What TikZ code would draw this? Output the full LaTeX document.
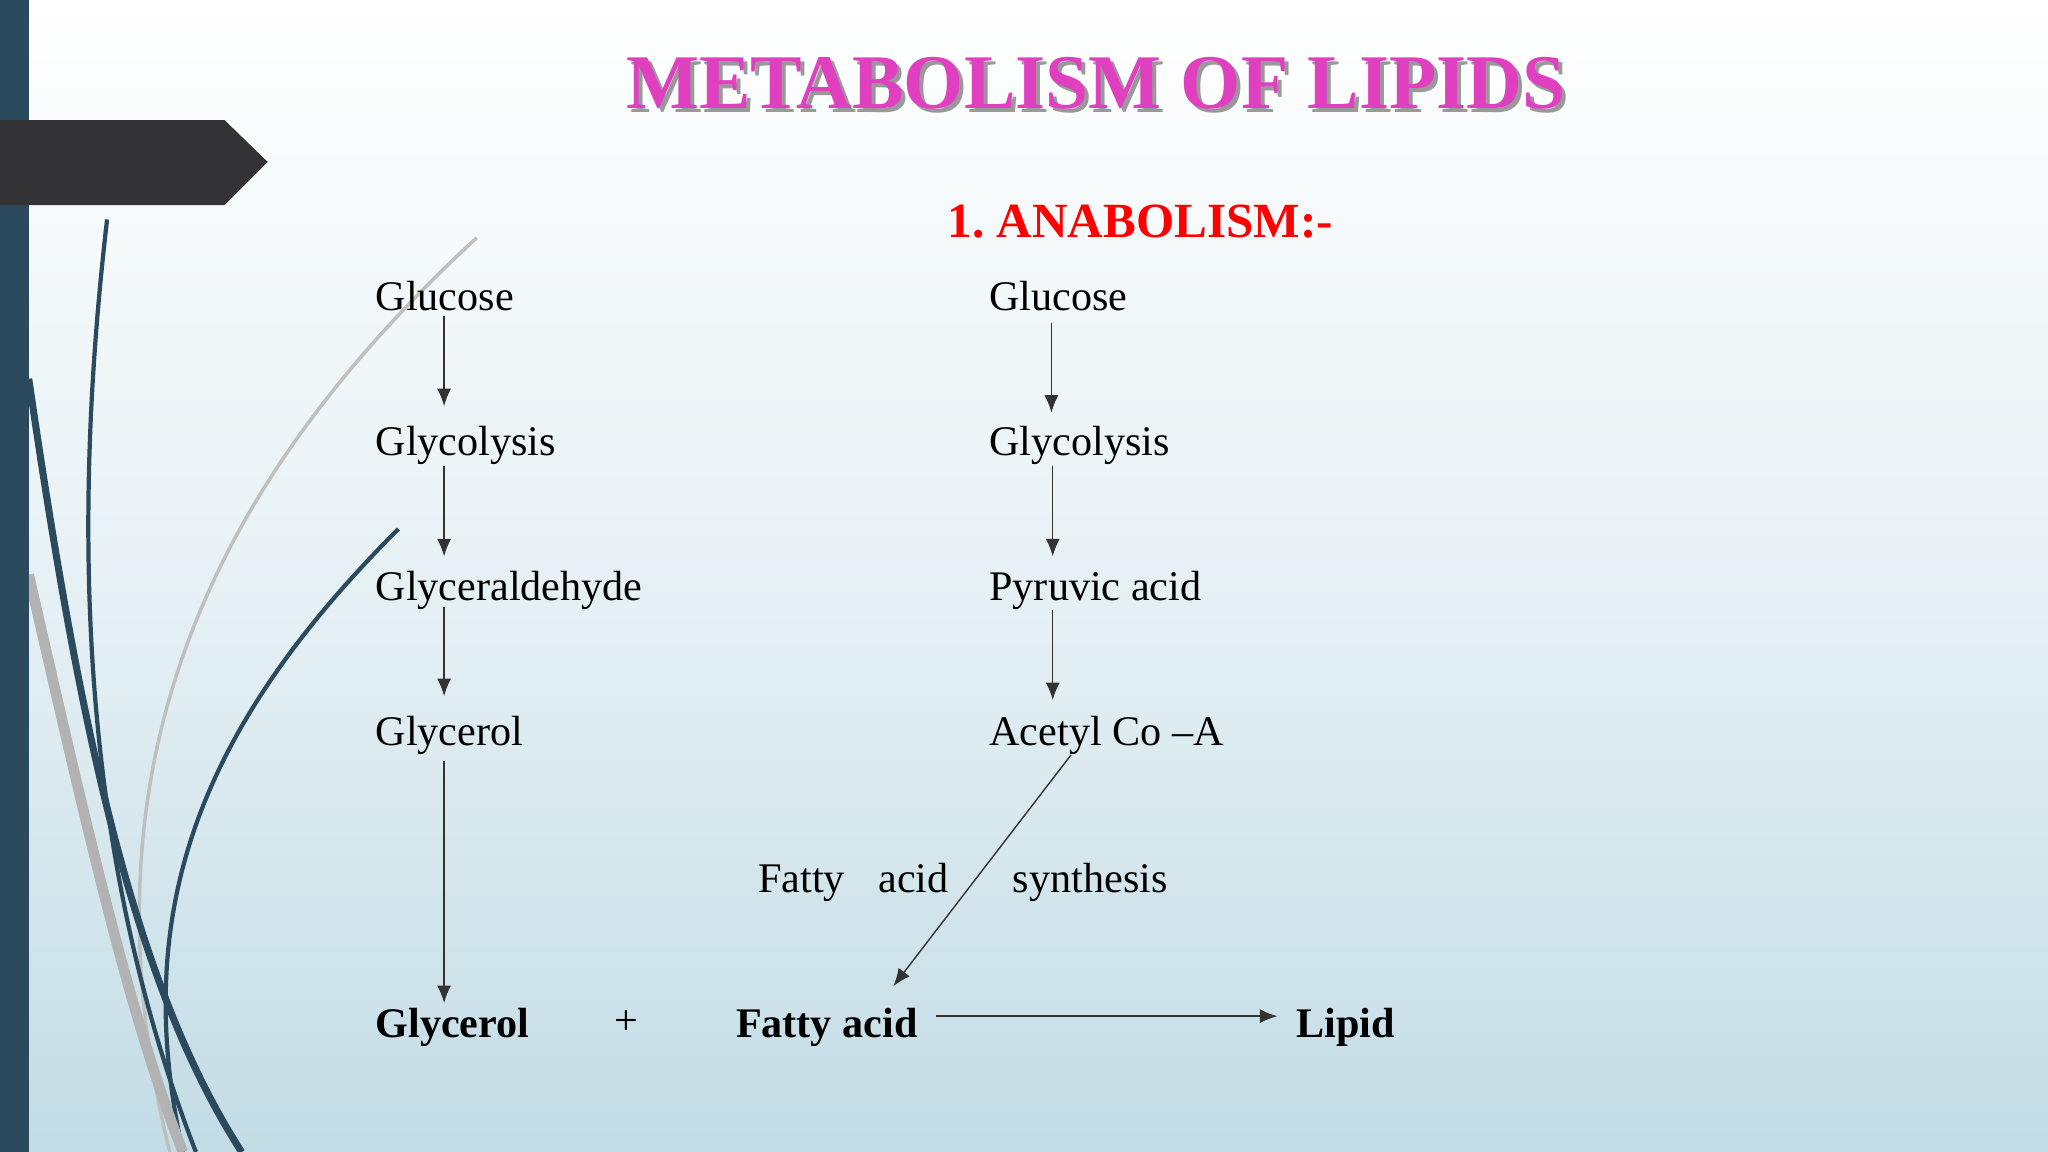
\documentclass[tikz,border=0pt]{standalone}
\usepackage{fontspec}
\setmainfont{Liberation Serif}
\usetikzlibrary{arrows.meta}
\definecolor{bgbot}{HTML}{C3DCE5}
\definecolor{bar}{HTML}{2C4A5E}
\definecolor{tag}{HTML}{333335}
\definecolor{ttl}{HTML}{E040C0}
\tikzset{
  lbl/.style={anchor=base west,inner sep=0pt,font=\fontsize{12}{14}\selectfont},
  blbl/.style={lbl,font=\fontsize{12}{14}\selectfont\bfseries},
  arr/.style={-{Latex[length=5pt,width=4pt]},thin,black!80},
}
\begin{document}
\begin{tikzpicture}[x=0.013061cm,y=-0.013061cm]
\useasboundingbox (0,0) rectangle (1568,882);
\shade[top color=white,bottom color=bgbot,middle color=white!60!bgbot] (0,0) rectangle (1568,882);
% decorative curves
\draw[black!25,line width=1pt] (365,182) .. controls (150,380) and (60,600) .. (130,882);
\draw[bar,line width=1.2pt] (305,405) .. controls (150,560) and (100,700) .. (140,882);
\draw[bar,line width=1.2pt] (82,168) .. controls (55,400) and (60,650) .. (150,882);
\draw[bar,line width=2pt] (22,290) .. controls (60,550) and (100,750) .. (185,882);
\draw[black!30,line width=3pt] (22,440) .. controls (70,650) and (100,780) .. (140,882);
\fill[bar] (0,0) rectangle (22,882);
\fill[tag] (0,92) -- (172,92) -- (205,124) -- (172,157) -- (0,157) -- cycle;
% title
\node[font=\fontsize{22}{26}\selectfont\bfseries,text=black!40,inner sep=0pt] at (842,67) {METABOLISM OF LIPIDS};
\node[font=\fontsize{22}{26}\selectfont\bfseries,text=ttl,inner sep=0pt] (title) at (839,64) {METABOLISM OF LIPIDS};
\node[font=\fontsize{14}{16}\selectfont\bfseries,text=red,anchor=base west,inner sep=0pt] (ana) at (725,182) {1.\ ANABOLISM:-};
% left column
\node[lbl] (g1) at (287,238) {Glucose};
\node[lbl] (gl1) at (287,349) {Glycolysis};
\node[lbl] (ga) at (287,460) {Glyceraldehyde};
\node[lbl] (gy) at (287,571) {Glycerol};
\node[blbl] (gyb) at (287,794) {Glycerol};
\node[lbl] (plus) at (470,792) {+};
\node[blbl] (fa) at (563,794) {Fatty acid};
\node[blbl] (lip) at (992,794) {Lipid};
% right column
\node[lbl] (g2) at (757,238) {Glucose};
\node[lbl] (gl2) at (757,349) {Glycolysis};
\node[lbl] (py) at (757,460) {Pyruvic acid};
\node[lbl] (ac) at (757,571) {Acetyl Co {\textendash}A};
\node[lbl] (f1) at (580,683) {Fatty};
\node[lbl] (f2) at (672,683) {acid};
\node[lbl] (f3) at (775,683) {synthesis};
% arrows
\coordinate (a1) at (340,242); \coordinate (b1) at (340,311);
\coordinate (a2) at (340,357); \coordinate (b2) at (340,426);
\coordinate (a3) at (340,465); \coordinate (b3) at (340,533);
\coordinate (a4) at (340,583); \coordinate (b4) at (340,768);
\coordinate (a5) at (805,247); \coordinate (b5) at (805,316);
\coordinate (a6) at (806,357); \coordinate (b6) at (806,426);
\coordinate (a7) at (806,467); \coordinate (b7) at (806,536);
\coordinate (a8) at (820,578); \coordinate (b8) at (684,755);
\coordinate (a9) at (717,778); \coordinate (b9) at (978,778);
\foreach \i in {1,...,9} \draw[arr] (a\i) -- (b\i);
\end{tikzpicture}
\end{document}
